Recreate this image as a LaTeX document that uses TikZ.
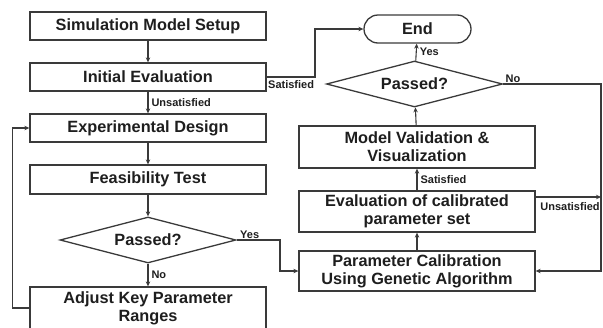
\documentclass[tikz,border=0pt]{standalone}
\usepackage{fontspec}
\setmainfont{Liberation Sans}
\usetikzlibrary{shapes.geometric,shapes.misc,arrows.meta}
\definecolor{ln}{HTML}{3A3A3A}
\definecolor{tx}{HTML}{1E1E1E}
\tikzset{
  box/.style={draw=ln, line width=1.3pt, rectangle, minimum width=236pt, inner sep=0pt, align=center,
    font=\bfseries\fontsize{16.3}{18}\selectfont, text=tx},
  dia/.style={draw=ln, line width=1.3pt, diamond, shape aspect=3.8, minimum width=176pt, minimum height=46pt, inner sep=0pt,
    font=\bfseries\fontsize{16.3}{18}\selectfont, text=tx},
  term/.style={draw=ln, line width=1.3pt, rounded rectangle, minimum width=107pt, minimum height=28pt, inner sep=0pt,
    font=\bfseries\fontsize{16.3}{18}\selectfont, text=tx},
  arr/.style={draw=ln, line width=1.1pt, -{Stealth[length=5pt,width=4.5pt]}},
  conn/.style={draw=ln, line width=1.1pt},
  lab/.style={font=\bfseries\fontsize{11}{12}\selectfont, text=tx, inner sep=1pt}
}
\begin{document}
\begin{tikzpicture}[x=1pt,y=-1pt]
\useasboundingbox (0,0) rectangle (603,327);
% left column
\node[box, minimum height=28pt] (setup) at (148,26) {Simulation Model Setup};
\node[box, minimum height=28pt] (init) at (148,77) {Initial Evaluation};
\node[box, minimum height=28pt] (exp) at (148,128) {Experimental Design};
\node[box, minimum height=29pt] (feas) at (148,179.5) {Feasibility Test};
\node[dia] (d1) at (148,240) {Passed?};
\node[box, minimum height=42pt] (adj) at (148,308) {Adjust Key Parameter\\Ranges};
% right column
\node[term] (end) at (417.5,29) {End};
\node[dia] (d2) at (414.5,84) {Passed?};
\node[box, minimum height=42pt] (mv) at (417,147) {Model Validation \&\\Visualization};
\node[box, minimum height=41pt] (ev) at (417,211.5) {Evaluation of calibrated\\parameter set};
\node[box, minimum height=40pt] (pc) at (417,271) {Parameter Calibration\\Using Genetic Algorithm};
\coordinate (rt) at (601,84);
\coordinate (ue) at (601,197);
% connectors left
\draw[arr] (setup) -- (init);
\draw[arr] (init) -- node[lab, right, xshift=2pt] {Unsatisfied} (exp);
\draw[arr] (exp) -- (feas);
\draw[arr] (feas) -- (d1);
\draw[arr] (d1) -- node[lab, right, xshift=2pt] {No} (adj);
\draw[arr] (adj.west) -- ++(-17,0) |- (exp.west);
\draw[arr] (d1.east) -- node[lab, above, pos=0.3] {Yes} (280,240) |- (pc.west);
% connectors right
\draw[arr] (init.east) -- (315,77) |- (end.west);
\node[lab, anchor=north west] at (267,79) {Satisfied};
\draw[arr] (d2) -- node[lab, right, xshift=2pt] {Yes} (end);
\draw[arr] (mv) -- (d2);
\draw[arr] (ev) -- node[lab, right, xshift=2pt] {Satisfied} (mv);
\draw[arr] (pc) -- (ev);
\draw[arr] (d2.east) -- node[lab, above, pos=0.1] {No} (rt) |- (pc.east);
\draw[arr] (ev.east |- ue) -- (ue);
\node[lab] at (570,207) {Unsatisfied};
\end{tikzpicture}
\end{document}
